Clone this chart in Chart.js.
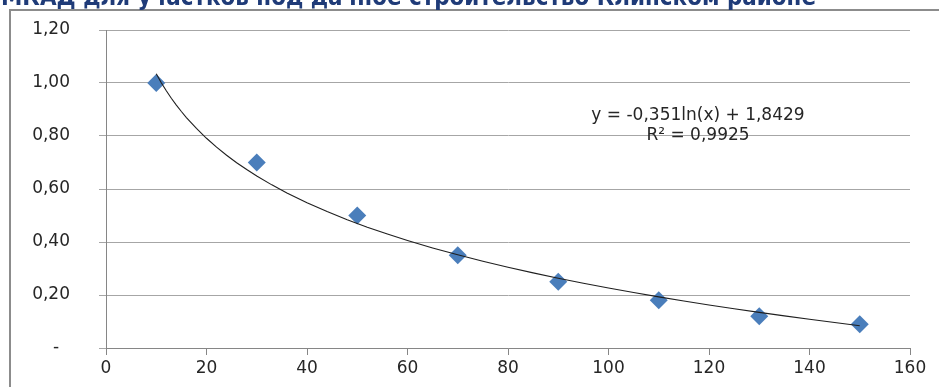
<!DOCTYPE html>
<html>
<head>
<meta charset="utf-8">
<script src="https://cdn.jsdelivr.net/npm/chart.js@4/dist/chart.umd.min.js"></script>
<style>
  html, body { margin: 0; padding: 0; background: #ffffff; overflow: hidden; }
  canvas { display: block; }
</style>
</head>
<body>
<canvas id="chart" width="939" height="387"></canvas>
<script>
// Distance from MKAD, km
const distances = [10, 30, 50, 70, 90, 110, 130, 150];
// Price coefficient
const coefficients = [1.00, 0.70, 0.50, 0.35, 0.25, 0.18, 0.12, 0.09];

// Logarithmic trendline as stated by the fit label: y = a*ln(x) + b
const trendA = -0.351;
const trendB = 1.8429;
const trendR2 = 0.9925;
const trendXs = [10, 11, 12, 13, 14, 15, 16, 18, 20, 22, 24, 26, 28, 30, 33, 36, 40, 44, 48, 52, 56, 60,
  65, 70, 75, 80, 85, 90, 95, 100, 105, 110, 115, 120, 125, 130, 135, 140, 145, 150];

const xTicks = [0, 20, 40, 60, 80, 100, 120, 140, 160];
const yTicks = [0, 0.2, 0.4, 0.6, 0.8, 1.0, 1.2];

const titleText = 'МКАД для участков под дачное строительство Клинском районе';
const equationText = 'y = -0,351ln(x) + 1,8429';
const r2Text = 'R² = ' + trendR2.toFixed(4).replace('.', ',');

const tickFont = { family: 'DejaVu Sans', size: 17 };
const gridGray = '#a6a6a6';
const axisGray = '#868686';

const trendPoints = trendXs.map(x => ({ x, y: trendA * Math.log(x) + trendB }));
const points = distances.map((x, i) => ({ x, y: coefficients[i] }));

function fmtY(v) {
  if (Math.abs(v) < 1e-9) return '-  ';
  return v.toFixed(2).replace('.', ',');
}

// Frame, cropped heading and fit label
const decor = {
  id: 'decor',
  beforeDraw(chart) {
    const ctx = chart.ctx;
    ctx.save();
    ctx.fillStyle = '#ffffff';
    ctx.fillRect(0, 0, chart.width, chart.height);
    ctx.strokeStyle = '#8c8c8c';
    ctx.lineWidth = 2;
    ctx.beginPath();
    ctx.moveTo(10, chart.height + 5);
    ctx.lineTo(10, 10);
    ctx.lineTo(chart.width + 5, 10);
    ctx.stroke();

    ctx.fillStyle = '#1f3b78';
    ctx.font = 'bold 20px "DejaVu Sans"';
    const w = ctx.measureText(titleText).width;
    const size = 24;
    ctx.font = 'bold ' + size + 'px "DejaVu Sans"';
    const sx = 815 / (w * size / 20);
    ctx.translate(1, 5);
    ctx.scale(sx, 1);
    ctx.textAlign = 'left';
    ctx.textBaseline = 'alphabetic';
    ctx.fillText(titleText, 0, 0);
    ctx.restore();
  },
  afterDraw(chart) {
    const ctx = chart.ctx;
    ctx.save();
    ctx.fillStyle = '#262626';
    ctx.font = '17px "DejaVu Sans"';
    ctx.textAlign = 'center';
    ctx.textBaseline = 'middle';
    ctx.fillText(equationText, 698, 116);
    ctx.fillText(r2Text, 698, 136);
    ctx.restore();
  }
};

new Chart(document.getElementById('chart'), {
  type: 'scatter',
  data: {
    datasets: [
      {
        label: 'trend',
        type: 'line',
        data: trendPoints,
        borderColor: '#1f1f1f',
        borderWidth: 1.1,
        pointRadius: 0,
        tension: 0,
        fill: false
      },
      {
        label: 'coef',
        data: points,
        pointStyle: 'rectRot',
        pointRadius: 9,
        pointHoverRadius: 9,
        backgroundColor: '#4a7ebb',
        borderColor: '#4a7ebb',
        borderWidth: 0
      }
    ]
  },
  options: {
    responsive: false,
    animation: false,
    devicePixelRatio: 1,
    layout: { padding: { left: 10, right: 29, top: 30, bottom: 0 } },
    plugins: {
      legend: { display: false },
      tooltip: { enabled: false },
      title: { display: false }
    },
    scales: {
      x: {
        type: 'linear',
        min: xTicks[0],
        max: xTicks[xTicks.length - 1],
        afterBuildTicks: s => { s.ticks = xTicks.map(v => ({ value: v })); },
        afterFit: s => { s.height = 39; },
        ticks: {
          font: tickFont,
          color: '#262626',
          padding: 3,
          maxRotation: 0,
          callback: v => String(v)
        },
        grid: {
          drawOnChartArea: false,
          drawTicks: true,
          tickLength: 7,
          color: axisGray
        },
        border: { display: true, color: axisGray, width: 1 }
      },
      y: {
        type: 'linear',
        min: yTicks[0],
        max: yTicks[yTicks.length - 1],
        afterBuildTicks: s => { s.ticks = yTicks.map(v => ({ value: v })); },
        afterFit: s => { s.width = 96; s.paddingTop = 0; s.paddingBottom = 0; },
        ticks: {
          font: tickFont,
          color: '#262626',
          padding: 29,
          callback: v => fmtY(v)
        },
        grid: {
          drawOnChartArea: true,
          drawTicks: true,
          tickLength: 7,
          color: gridGray
        },
        border: { display: true, color: axisGray, width: 1 }
      }
    }
  },
  plugins: [decor]
});
</script>
</body>
</html>
